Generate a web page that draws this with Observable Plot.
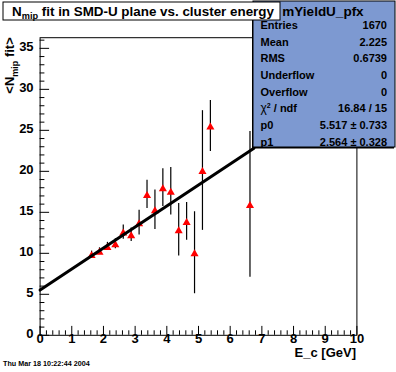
<!DOCTYPE html>
<html>
<head>
<meta charset="utf-8">
<script src="https://cdn.jsdelivr.net/npm/d3@7"></script>
<script src="https://cdn.jsdelivr.net/npm/@observablehq/plot@0.6"></script>
<style>
  html, body { margin: 0; padding: 0; background: white; }
  svg { display: block; }
</style>
</head>
<body>
<div id="chart"></div>
<script>
// ---- data ----
const binCenters = [1.625, 1.875, 2.125, 2.375, 2.625, 2.875, 3.125, 3.375, 3.625, 3.875, 4.125, 4.375, 4.625, 4.875, 5.125, 5.375, 6.625];
const meanNmip   = [9.87, 10.27, 10.84, 11.17, 12.59, 12.27, 13.74, 17.19, 15.32, 18.0, 17.56, 12.88, 13.9, 10.07, 20.1, 25.53, 15.97];
const errNmip    = [0.4, 0.4, 0.5, 0.6, 0.87, 0.82, 1.5, 1.73, 2.4, 2.3, 2.9, 3.2, 2.3, 5.0, 7.3, 3.1, 8.9];

const fitX = [0, 6.75];
const fitY = [5.517, 22.824];

const xTickLabels = [0, 1, 2, 3, 4, 5, 6, 7, 8, 9, 10];
const yTickLabels = [0, 5, 10, 15, 20, 25, 30, 35];

const chartTitle = "fit in SMD-U plane vs. cluster energy";
const statsTitle = "mYieldU_pfx";
const statsLabels = ["Entries", "Mean", "RMS", "Underflow", "Overflow", "χ2 / ndf", "p0", "p1"];
const statsValues = ["1670", "2.225", "0.6739", "0", "0", "16.84 / 15", "5.517 \u00b1 0.733", "2.564 \u00b1 0.328"];
const dateText = "Thu Mar 18 10:22:44 2004";

// ---- layout ----
const W = 396, H = 372;
const mL = 39.6, mR = 39.6, mT = 37.2, mB = 37.2;
const fw = W - mL - mR, fh = H - mT - mB;
const font = "'Liberation Sans', Arial, Helvetica, sans-serif";

const points = binCenters.map((x, i) => ({x, y: meanNmip[i], e: errNmip[i]}));
const fit = fitX.map((x, i) => ({x, y: fitY[i]}));

const xMinor = d3.range(0, 10.0001, 0.2).filter(v => Math.abs(v - Math.round(v)) > 1e-6);
const yMinor = d3.range(0, 36.3, 1).filter(v => v % 5 !== 0);

const svg = Plot.plot({
  width: W, height: H,
  marginLeft: mL, marginRight: mR, marginTop: mT, marginBottom: mB,
  x: {domain: [0, 10], axis: null},
  y: {domain: [0, 36.3], axis: null},
  style: {fontFamily: font, background: "white", overflow: "visible"},
  marks: [
    // ticks (inside the frame, ROOT style)
    Plot.tickX(xTickLabels, {x: d => d, insetTop: fh - 8.9, stroke: "black", strokeWidth: 1}),
    Plot.tickX(xMinor, {x: d => d, insetTop: fh - 4.5, stroke: "black", strokeWidth: 1}),
    Plot.tickY(yTickLabels, {y: d => d, insetRight: fw - 9.5, stroke: "black", strokeWidth: 1}),
    Plot.tickY(yMinor, {y: d => d, insetRight: fw - 4.8, stroke: "black", strokeWidth: 1}),
    // tick labels
    Plot.text(xTickLabels, {x: d => d, frameAnchor: "bottom", dy: 8, text: d => String(d),
      fontSize: 13, fontWeight: "bold", fill: "black"}),
    Plot.text(yTickLabels, {y: d => d, frameAnchor: "left", dx: -6.5, dy: -1.5, textAnchor: "end",
      text: d => String(d), fontSize: 13, fontWeight: "bold", fill: "black"}),
    // error bars
    Plot.ruleX(points, {x: "x", y1: d => d.y - d.e, y2: d => d.y + d.e, stroke: "black", strokeWidth: 1.2}),
    // markers
    Plot.dot(points, {x: "x", y: "y", symbol: "triangle", r: 3.0, fill: "#ff0000", stroke: "none", dy: 1.2}),
    // fit line
    Plot.line(fit, {x: "x", y: "y", stroke: "black", strokeWidth: 3}),
    Plot.frame({stroke: "black", strokeWidth: 1})
  ]
});

document.getElementById("chart").appendChild(svg);

const s = d3.select(svg);

// axis titles
const yt = s.append("text")
  .attr("transform", `translate(14,${mT}) rotate(-90)`)
  .attr("text-anchor", "end")
  .attr("font-family", font).attr("font-weight", "bold").attr("font-size", 13).attr("fill", "black");
yt.append("tspan").text("<N");
yt.append("tspan").attr("font-size", 9).attr("dy", 3.5).text("mip");
yt.append("tspan").attr("dy", -3.5).text(" fit>");

s.append("text")
  .attr("x", 356).attr("y", 357)
  .attr("text-anchor", "end")
  .attr("font-family", font).attr("font-weight", "bold").attr("font-size", 13).attr("fill", "black")
  .text("E_c [GeV]");

// date
s.append("text")
  .attr("x", 3).attr("y", 366)
  .attr("text-anchor", "start")
  .attr("font-family", font).attr("font-weight", "bold").attr("font-size", 7.2).attr("fill", "black")
  .text(dateText);

// stats box
const sx0 = 253, sx1 = 395, sy0 = 1, sy1 = 147;
s.append("rect").attr("x", sx0 - 1).attr("y", sy0 + 1.5).attr("width", sx1 - sx0).attr("height", sy1 - sy0)
  .attr("fill", "black");
s.append("rect").attr("x", sx0).attr("y", sy0).attr("width", sx1 - sx0).attr("height", sy1 - sy0)
  .attr("fill", "#7d99d1").attr("stroke", "black").attr("stroke-width", 1);
s.append("text")
  .attr("x", 323).attr("y", 11).attr("dy", "0.35em")
  .attr("text-anchor", "middle")
  .attr("font-family", font).attr("font-weight", "bold").attr("font-size", 13.5).attr("fill", "black")
  .text(statsTitle);
statsLabels.forEach((lab, i) => {
  const yy = 25 + i * 16.67;
  const t = s.append("text")
    .attr("x", 260.5).attr("y", yy).attr("dy", "0.35em")
    .attr("text-anchor", "start")
    .attr("font-family", font).attr("font-weight", "bold").attr("font-size", 11).attr("fill", "black");
  if (lab.startsWith("χ2")) {
    t.append("tspan").attr("font-weight", "normal").attr("font-size", 12).text("χ");
    t.append("tspan").attr("font-size", 7).attr("dy", -4).text("2");
    t.append("tspan").attr("dy", 4).text(lab.slice(2));
  } else {
    t.text(lab);
  }
  s.append("text")
    .attr("x", 387).attr("y", yy).attr("dy", "0.35em")
    .attr("text-anchor", "end")
    .attr("font-family", font).attr("font-weight", "bold").attr("font-size", 11).attr("fill", "black")
    .text(statsValues[i]);
});

// title box
s.append("rect").attr("x", 3).attr("y", 2).attr("width", 277).attr("height", 18)
  .attr("fill", "white").attr("stroke", "black").attr("stroke-width", 1);
const tt = s.append("text")
  .attr("x", 143).attr("y", 11).attr("dy", "0.35em")
  .attr("text-anchor", "middle")
  .attr("font-family", font).attr("font-weight", "bold").attr("font-size", 13.4).attr("fill", "black");
tt.append("tspan").text("N");
tt.append("tspan").attr("font-size", 9.2).attr("dy", 3.5).text("mip");
tt.append("tspan").attr("dy", -3.5).text(" " + chartTitle);
</script>
</body>
</html>
